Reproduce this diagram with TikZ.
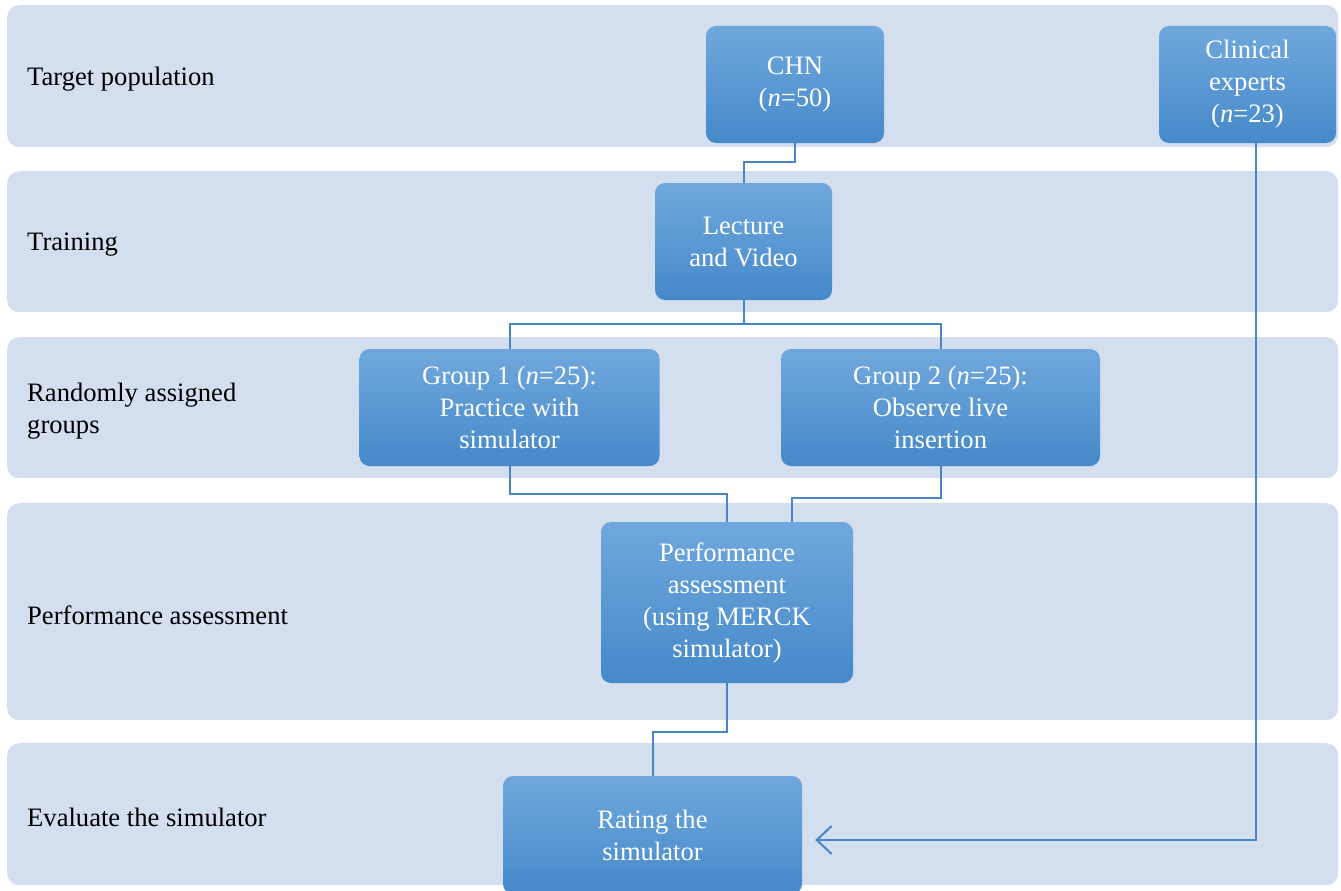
\documentclass[tikz,border=0pt]{standalone}
\usepackage{fontspec}
\setmainfont{Liberation Serif}
\usetikzlibrary{arrows.meta}
\definecolor{lanefill}{HTML}{D3DEEF}
\definecolor{boxtop}{HTML}{70A8DD}
\definecolor{boxbot}{HTML}{4589C9}
\definecolor{linec}{HTML}{4A86C5}
\begin{document}
\begin{tikzpicture}[x=1pt,y=-1pt,
  lane/.style={rounded corners=12pt, fill=lanefill, draw=none, inner sep=0pt, anchor=north west, minimum width=1331pt},
  lanelabel/.style={anchor=west, align=left, inner sep=0pt, font=\fontsize{26.6}{32}\selectfont, text=black},
  box/.style={rounded corners=10pt, top color=boxtop, bottom color=boxbot, draw=none, inner sep=0pt, align=center, text=white, font=\fontsize{26.6}{32}\selectfont},
  conn/.style={draw=linec, line width=2pt},
]
\useasboundingbox (0,0) rectangle (1341,891);
\clip (0,0) rectangle (1341,891);
% lanes
\node[lane, minimum height=142pt] (lane1) at (7,5) {};
\node[lane, minimum height=141pt] (lane2) at (7,171) {};
\node[lane, minimum height=141pt] (lane3) at (7,337) {};
\node[lane, minimum height=217pt] (lane4) at (7,503) {};
\node[lane, minimum height=142pt] (lane5) at (7,743) {};
% lane labels
\node[lanelabel] (l1) at (27,79) {Target population};
\node[lanelabel] (l2) at (27,245) {Training};
\node[lanelabel] (l3) at (27,411) {Randomly assigned\\groups};
\node[lanelabel] (l4) at (27,615) {Performance assessment};
\node[lanelabel] (l5) at (27,817) {Evaluate the simulator};
% boxes
\node[box, minimum width=178pt, minimum height=117pt] (chn) at (795,84.5) {CHN\\(\textit{n}=50)};
\node[box, minimum width=177pt, minimum height=117pt] (clin) at (1247.5,84.5) {Clinical\\experts\\(\textit{n}=23)};
\node[box, minimum width=177pt, minimum height=117pt] (lec) at (743.5,241.5) {Lecture\\and Video};
\node[box, minimum width=300pt, minimum height=117pt] (g1) at (509.5,407.5) {Group 1 (\textit{n}=25):\\Practice with\\simulator};
\node[box, minimum width=319pt, minimum height=117pt] (g2) at (940.5,407.5) {Group 2 (\textit{n}=25):\\Observe live\\insertion};
\node[box, minimum width=252pt, minimum height=161pt] (perf) at (727,602.5) {Performance\\assessment\\(using MERCK\\simulator)};
\node[box, minimum width=299pt, minimum height=118pt] (rate) at (652.5,835) {Rating the\\simulator};
% connectors
\draw[conn] (chn.south) -- ++(0,19) -| (lec.north);
\draw[conn] (lec.south) -- ++(0,24) coordinate (j1);
\draw[conn] (j1) -| (g1.north);
\draw[conn] (j1) -| (g2.north);
\draw[conn] (g1.south) -- ++(0,28) -| (perf.north);
\draw[conn] (g2.south) -- ++(0,32) -| ([xshift=65pt]perf.north);
\draw[conn] (perf.south) -- ++(0,49) -| (rate.north);
\draw[conn, -{Straight Barb[length=15pt,width=28pt,line width=2pt]}] ([xshift=8.5pt]clin.south) |- ([xshift=13pt,yshift=-5pt]rate.east);
\end{tikzpicture}
\end{document}
